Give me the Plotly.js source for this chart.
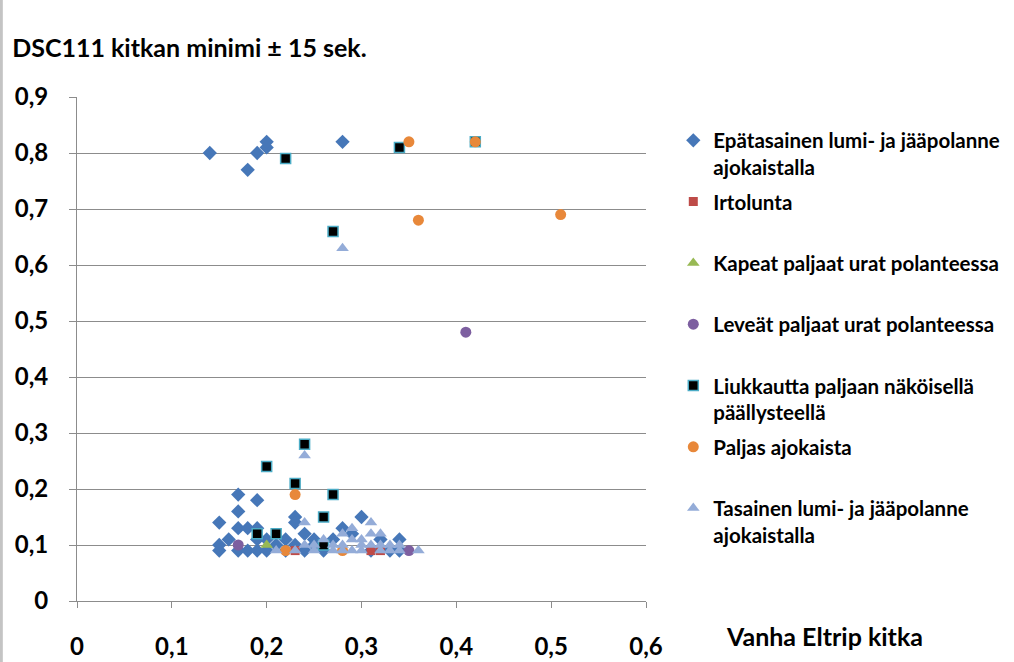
<!DOCTYPE html>
<html>
<head>
<meta charset="utf-8">
<script src="https://cdn.plot.ly/plotly-3.0.1.min.js"></script>
<style>html,body{margin:0;padding:0;background:#fff;}#chart{width:1014px;height:662px;}</style>
</head>
<body>
<div id="chart"></div>
<script>
// Series names
const seriesNames = [
  "Epätasainen lumi- ja jääpolanne<br>ajokaistalla",
  "Irtolunta<br>\u00a0",
  "Kapeat paljaat urat polanteessa<br>\u00a0",
  "Leveät paljaat urat polanteessa<br>\u00a0",
  "Liukkautta paljaan näköisellä<br>päällysteellä",
  "Paljas ajokaista<br>\u00a0",
  "Tasainen lumi- ja jääpolanne<br>ajokaistalla"
];

// Epätasainen lumi- ja jääpolanne ajokaistalla
const epaX = [0.14,0.18,0.19,0.20,0.20,0.28,
  0.15,0.15,0.15,0.16,0.17,0.17,0.17,0.17,0.18,0.18,0.19,0.19,0.19,0.19,0.20,0.20,0.21,0.22,0.22,0.23,0.23,0.23,0.24,0.24,0.25,0.25,0.26,0.27,0.28,0.29,0.30,0.31,0.32,0.33,0.34,0.34];
const epaY = [0.80,0.77,0.80,0.81,0.82,0.82,
  0.14,0.10,0.09,0.11,0.19,0.16,0.13,0.09,0.13,0.09,0.18,0.13,0.11,0.09,0.11,0.09,0.10,0.11,0.09,0.15,0.14,0.10,0.12,0.09,0.11,0.10,0.09,0.11,0.13,0.12,0.15,0.09,0.11,0.09,0.11,0.09];

// Irtolunta
const irtX = [0.23,0.31,0.32];
const irtY = [0.09,0.09,0.09];

// Kapeat paljaat urat polanteessa
const kapX = [0.20];
const kapY = [0.10];

// Leveät paljaat urat polanteessa
const levX = [0.41,0.17,0.35];
const levY = [0.48,0.10,0.09];

// Liukkautta paljaan näköisellä päällysteellä
const liuX = [0.22,0.34,0.27,0.42,0.24,0.20,0.23,0.27,0.26,0.19,0.21,0.26];
const liuY = [0.79,0.81,0.66,0.82,0.28,0.24,0.21,0.19,0.15,0.12,0.12,0.10];

// Paljas ajokaista
const palX = [0.35,0.42,0.36,0.51,0.23,0.22,0.28];
const palY = [0.82,0.82,0.68,0.69,0.19,0.09,0.09];

// Tasainen lumi- ja jääpolanne ajokaistalla
const tasX = [0.28,0.24,0.24,0.31,0.29,0.21,0.23,0.24,0.25,0.26,0.27,0.27,0.28,0.28,0.28,0.29,0.29,0.30,0.30,0.31,0.31,0.32,0.32,0.33,0.33,0.34,0.34,0.36,0.25,0.30,0.32];
const tasY = [0.63,0.26,0.14,0.14,0.13,0.09,0.09,0.10,0.10,0.11,0.10,0.09,0.12,0.10,0.09,0.11,0.09,0.11,0.10,0.12,0.10,0.12,0.10,0.10,0.09,0.10,0.09,0.09,0.09,0.09,0.09];

const xTicks = [0,0.1,0.2,0.3,0.4,0.5,0.6];
const yTicks = [0,0.1,0.2,0.3,0.4,0.5,0.6,0.7,0.8,0.9];

const FONT = "Lato, 'Open Sans', sans-serif";

function tr(x, y, i, symbol, color, size, line) {
  return {
    type: 'scatter', mode: 'markers', x: x, y: y, name: seriesNames[i],
    legendgroup: 'g' + i,
    marker: {symbol: symbol, color: color, size: size, line: line || {width: 0}},
    hoverinfo: 'x+y'
  };
}

const data = [
  tr(epaX, epaY, 0, 'diamond', '#4677b8', 11),
  tr(irtX, irtY, 1, 'square', '#be4b48', 9),
  tr(kapX, kapY, 2, 'triangle-up', '#98b954', 11),
  tr(levX, levY, 3, 'circle', '#7d5fa0', 11),
  tr(liuX, liuY, 4, 'square', '#000000', 10, {width: 1.5, color: '#4bacc6'}),
  tr(palX, palY, 5, 'circle', '#e8883a', 11),
  tr(tasX, tasY, 6, 'triangle-up', '#94acd8', 11)
];

const layout = {
  width: 1014, height: 662,
  margin: {l: 77, r: 368, t: 97, b: 61},
  paper_bgcolor: '#ffffff', plot_bgcolor: '#ffffff',
  separators: ',.',
  font: {family: FONT, color: '#000000'},
  title: {
    text: '<b>DSC111 kitkan minimi ± 15 sek.</b>',
    font: {family: FONT, size: 25, color: '#000'},
    xref: 'container', yref: 'container', x: 0.012, xanchor: 'left', y: 0.927, yanchor: 'middle'
  },
  xaxis: {
    range: [0, 0.6], tickvals: xTicks,
    showgrid: false, zeroline: false,
    showline: true, linecolor: '#8c8c8c', linewidth: 1,
    ticks: 'outside', ticklen: 6, tickcolor: '#8c8c8c',
    tickfont: {family: FONT, size: 24, color: '#000', weight: 'bold'},
    ticklabelstandoff: 18
  },
  yaxis: {
    range: [0, 0.9], tickvals: yTicks,
    showgrid: true, gridcolor: '#8c8c8c', gridwidth: 1,
    zeroline: false,
    showline: true, linecolor: '#8c8c8c', linewidth: 1,
    ticks: 'outside', ticklen: 7, tickcolor: '#8c8c8c',
    tickfont: {family: FONT, size: 24, color: '#000', weight: 'bold'},
    ticklabelstandoff: 16
  },
  legend: {
    xref: 'container', yref: 'container',
    x: 0.664, y: 0.818, xanchor: 'left', yanchor: 'top',
    font: {family: FONT, size: 20.5, color: '#000', weight: 'bold'},
    traceorder: 'grouped', tracegroupgap: 5, valign: 'top',
    itemwidth: 30, bgcolor: 'rgba(0,0,0,0)', maxheight: 0.95
  },
  shapes: [{
    type: 'line', xref: 'paper', yref: 'paper', x0: -0.133, x1: -0.133, y0: -0.25, y1: 1.25,
    line: {color: '#c4c4c4', width: 3}
  }],
  annotations: [{
    text: '<b>Vanha Eltrip kitka</b>', xref: 'paper', yref: 'paper',
    x: 1.137, y: -0.069, xanchor: 'left', yanchor: 'middle', showarrow: false,
    font: {family: FONT, size: 25, color: '#000'}
  }],
  showlegend: true
};

Plotly.newPlot('chart', data, layout, {displayModeBar: false, staticPlot: true});
</script>
</body>
</html>
